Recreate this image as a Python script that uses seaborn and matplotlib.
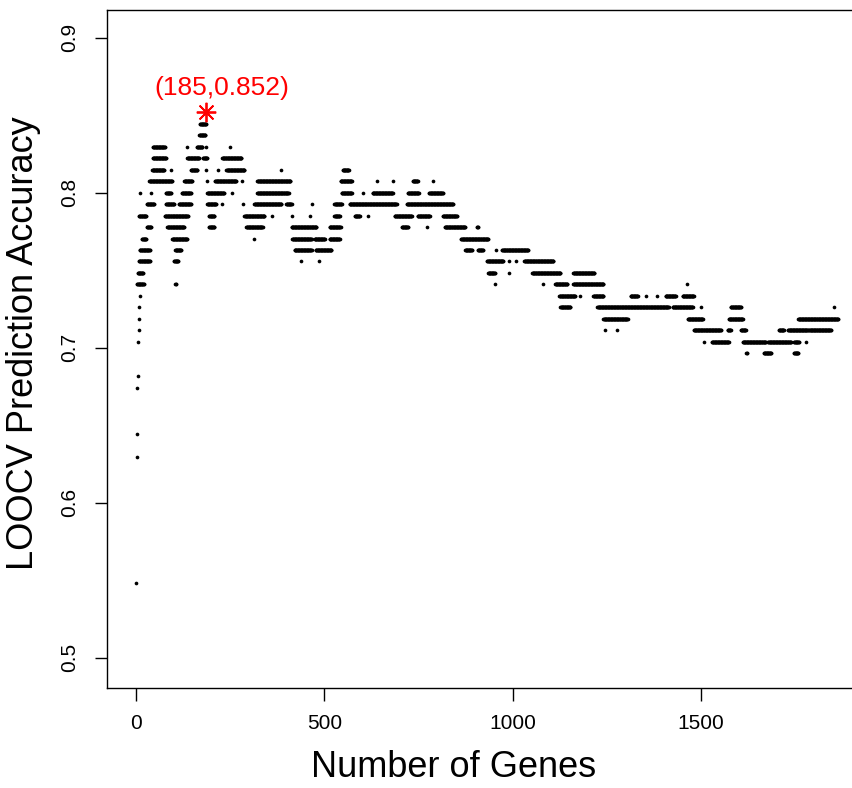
import numpy as np
import pandas as pd
import seaborn as sns
import matplotlib.pyplot as plt

# LOOCV over 135 samples; accuracy = correct / n_samples
n_samples = 135
best_genes = 185
best_acc = 0.852

# runs of gene counts that share the same number of correct calls (one line per level)
run_start = [
    1, 2, 3, 4, 5, 6, 7, 8, 9, 10,
    185,
    170,
    168,
    45, 136, 162, 186, 250,
    45, 136, 178, 229,
    43, 93, 146, 186, 218, 240, 386, 549,
    35, 128, 189, 210, 282, 322, 543, 639, 682, 735, 788,
    11, 40, 80, 122, 189, 255, 322, 546, 602, 628, 722, 778,
    29, 80, 114, 189, 229, 285, 314, 399, 466, 527, 567, 719,
    8, 77, 194, 288, 360, 413, 463, 527, 581, 615, 687, 748, 815,
    29, 83, 194, 293, 413, 514, 706, 772, 820, 905,
    16, 96, 314, 415, 474, 514, 863,
    10, 104, 421, 477, 874, 908, 956, 972,
    8, 101, 439, 487, 932, 991, 1009, 1031,
    5, 935, 991, 1052, 1161,
    3, 104, 953, 1081, 1113, 1161, 1462,
    1124, 1180, 1214, 1313, 1353, 1382, 1406, 1451,
    1127, 1225, 1425, 1499, 1579, 1853,
    1241, 1465, 1574, 1758,
    1246, 1278, 1481, 1571, 1606, 1707, 1731, 1787,
    1507, 1529, 1611, 1678, 1747, 1779,
    1620, 1667, 1747,
]
run_end = [
    1, 2, 3, 4, 5, 6, 7, 8, 9, 10,
    185,
    186,
    184,
    77, 136, 176, 186, 250,
    80, 168, 189, 280,
    75, 93, 163, 186, 218, 288, 386, 565,
    96, 149, 189, 266, 282, 410, 573, 639, 682, 748, 788,
    11, 40, 93, 146, 234, 255, 405, 573, 602, 682, 751, 815,
    48, 101, 146, 213, 229, 285, 386, 413, 466, 546, 692, 842,
    27, 138, 208, 341, 360, 413, 463, 541, 594, 615, 732, 780, 852,
    40, 128, 208, 336, 479, 543, 722, 772, 874, 908,
    27, 136, 314, 466, 501, 541, 935,
    37, 120, 466, 519, 892, 921, 956, 1041,
    37, 112, 439, 487, 975, 991, 1009, 1108,
    19, 953, 991, 1127, 1217,
    21, 106, 953, 1081, 1145, 1241, 1462,
    1166, 1180, 1241, 1332, 1353, 1382, 1433, 1481,
    1153, 1414, 1478, 1499, 1606, 1853,
    1305, 1505, 1611, 1864,
    1246, 1278, 1553, 1579, 1619, 1720, 1784, 1845,
    1507, 1574, 1672, 1739, 1760, 1779,
    1622, 1686, 1758,
]
run_correct = [
    74, 85, 87, 91, 92, 95, 96, 97, 98, 99,
    115,
    114,
    113,
    112, 112, 112, 112, 112,
    111, 111, 111, 111,
    110, 110, 110, 110, 110, 110, 110, 110,
    109, 109, 109, 109, 109, 109, 109, 109, 109, 109, 109,
    108, 108, 108, 108, 108, 108, 108, 108, 108, 108, 108, 108,
    107, 107, 107, 107, 107, 107, 107, 107, 107, 107, 107, 107,
    106, 106, 106, 106, 106, 106, 106, 106, 106, 106, 106, 106, 106,
    105, 105, 105, 105, 105, 105, 105, 105, 105, 105,
    104, 104, 104, 104, 104, 104, 104,
    103, 103, 103, 103, 103, 103, 103, 103,
    102, 102, 102, 102, 102, 102, 102, 102,
    101, 101, 101, 101, 101,
    100, 100, 100, 100, 100, 100, 100,
    99, 99, 99, 99, 99, 99, 99, 99,
    98, 98, 98, 98, 98, 98,
    97, 97, 97, 97,
    96, 96, 96, 96, 96, 96, 96, 96,
    95, 95, 95, 95, 95, 95,
    94, 94, 94,
]

genes = []
correct = []
for s, e, c in zip(run_start, run_end, run_correct):
    g = np.arange(s, e + 1)
    genes.extend(g)
    correct.extend([c] * len(g))
df = pd.DataFrame({"genes": genes, "accuracy": np.array(correct) / n_samples})

sns.set_style("ticks")
plt.rcParams['font.family'] = ['Liberation Sans', 'DejaVu Sans']
plt.rcParams['text.color'] = 'black'
plt.rcParams['axes.labelcolor'] = 'black'
plt.rcParams['xtick.color'] = 'black'
plt.rcParams['ytick.color'] = 'black'

fig = plt.figure(figsize=(8.53, 7.88), dpi=100)
ax = fig.add_axes([0.1254, 0.1269, 0.8898, 0.8604])

sns.scatterplot(data=df, x="genes", y="accuracy", color="black", s=7,
                linewidth=0, ax=ax)
ax.plot([best_genes], [best_acc], marker=(8, 2, 0), color="red",
        markersize=14, markeredgewidth=1.3, linestyle="none")
ax.text(228, 0.8675, f"({best_genes},{best_acc})", color="red",
        fontsize=19, ha="center", va="center")

ax.set_xlim(-77, 1938)
ax.set_ylim(0.4804, 0.9178)
ax.set_xticks([0, 500, 1000, 1500])
ax.set_yticks([0.5, 0.6, 0.7, 0.8, 0.9])
ax.set_yticklabels(["0.5", "0.6", "0.7", "0.8", "0.9"], rotation=90, va="center")
ax.tick_params(axis="both", length=9, width=1, labelsize=15,
               color="black", labelcolor="black")
ax.tick_params(axis="x", pad=10)
ax.tick_params(axis="y", pad=11)
for sp in ax.spines.values():
    sp.set_linewidth(1.0)
    sp.set_color("black")

ax.set_xlabel("Number of Genes", fontsize=26, labelpad=12, color="black")
ax.set_ylabel("LOOCV Prediction Accuracy", fontsize=26, labelpad=14, color="black")
ax.xaxis.label.set_x(0.456)
ax.yaxis.label.set_y(0.508)

fig.savefig("out.png", dpi=100)
